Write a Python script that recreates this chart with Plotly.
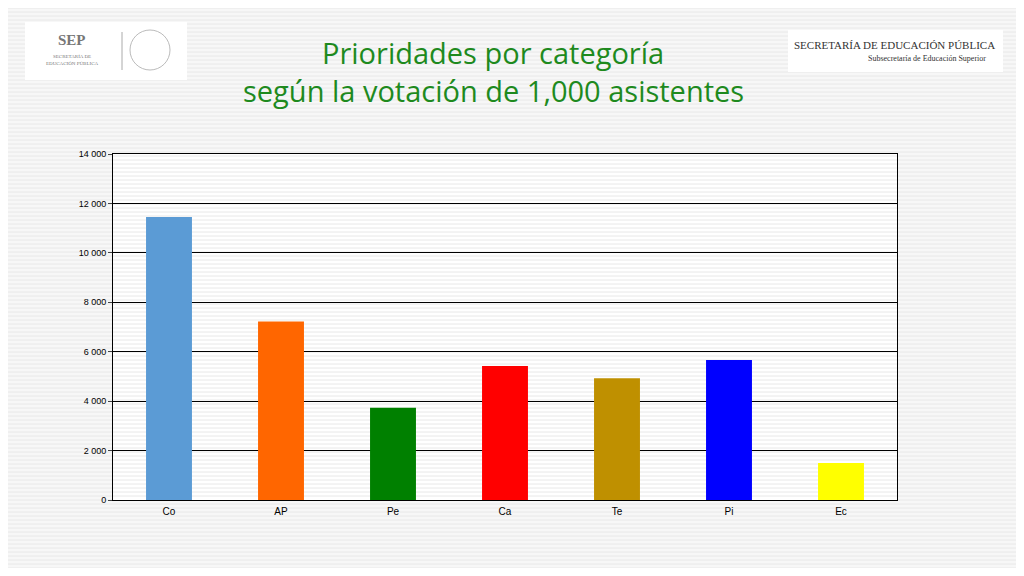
import plotly.graph_objects as go

categories = ["Co", "AP", "Pe", "Ca", "Te", "Pi", "Ec"]
votes = [11450, 7220, 3730, 5420, 4930, 5660, 1500]
colors = ["#5b9bd5", "#ff6600", "#008000", "#ff0000", "#bf9000", "#0000ff", "#ffff00"]
tick_vals = [0, 2000, 4000, 6000, 8000, 10000, 12000, 14000]
tick_text = ["0", "2 000", "4 000", "6 000", "8 000", "10 000", "12 000", "14 000"]

fig = go.Figure(
    go.Bar(
        x=categories,
        y=votes,
        marker=dict(color=colors, line=dict(width=0)),
    )
)


def px(x):
    return (x - 113) / 784


def py(y):
    return 1 - (y - 154) / 346


# striped slide background
bg_lines = []
for yy in range(0, 576, 4):
    bg_lines.append(dict(type="line", xref="paper", yref="paper", layer="below",
                         x0=px(0), x1=px(1024), y0=py(yy), y1=py(yy),
                         line=dict(color="#e8e8e8", width=1)))

logos = [
    dict(type="rect", xref="paper", yref="paper", x0=px(25), x1=px(187),
         y0=py(80), y1=py(22), fillcolor="white", line=dict(width=0)),
    dict(type="rect", xref="paper", yref="paper", x0=px(788), x1=px(1003),
         y0=py(72), y1=py(30), fillcolor="white", line=dict(width=0)),
    dict(type="line", xref="paper", yref="paper", x0=px(122), x1=px(122),
         y0=py(70), y1=py(32), line=dict(color="#aaaaaa", width=1)),
    dict(type="circle", xref="paper", yref="paper", x0=px(130), x1=px(170),
         y0=py(70), y1=py(30), line=dict(color="#bbbbbb", width=1)),
]


def ann(text, x, y, size, color, family="Liberation Serif"):
    return dict(text=text, xref="paper", yref="paper", x=px(x), y=py(y),
                xanchor="center", yanchor="middle", showarrow=False,
                font=dict(family=family, size=size, color=color))


fig.update_layout(
    width=1008, height=560,
    margin=dict(l=105, r=119, t=146, b=68),
    paper_bgcolor="#f7f7f7",
    plot_bgcolor="white",
    showlegend=False,
    shapes=bg_lines + logos,
    bargap=0.59,
    font=dict(family="Liberation Sans", color="black"),
    xaxis=dict(showline=True, linecolor="black", mirror=True, ticks="",
               tickfont=dict(size=10), ticklabelstandoff=2),
    yaxis=dict(range=[0, 14000], tickvals=tick_vals, ticktext=tick_text,
               showgrid=True, gridcolor="#000000", gridwidth=1,
               showline=True, linecolor="black", mirror=True,
               ticks="outside", ticklen=4, tickfont=dict(size=9)),
    annotations=[
        ann("Prioridades por categoría", 493, 52, 29, "#1e8a1e", "Open Sans"),
        ann("según la votación de 1,000 asistentes", 493, 90, 29, "#1e8a1e", "Open Sans"),
        ann("<b>SEP</b>", 72, 40, 15, "#777777"),
        ann("SECRETARÍA DE<br>EDUCACIÓN PÚBLICA", 72, 60, 5, "#777777"),
        ann("SECRETARÍA DE EDUCACIÓN PÚBLICA", 894, 45, 11, "#333333"),
        ann("Subsecretaría de Educación Superior", 927, 58, 8, "#333333"),
    ],
)

fig.write_html("out.html")
